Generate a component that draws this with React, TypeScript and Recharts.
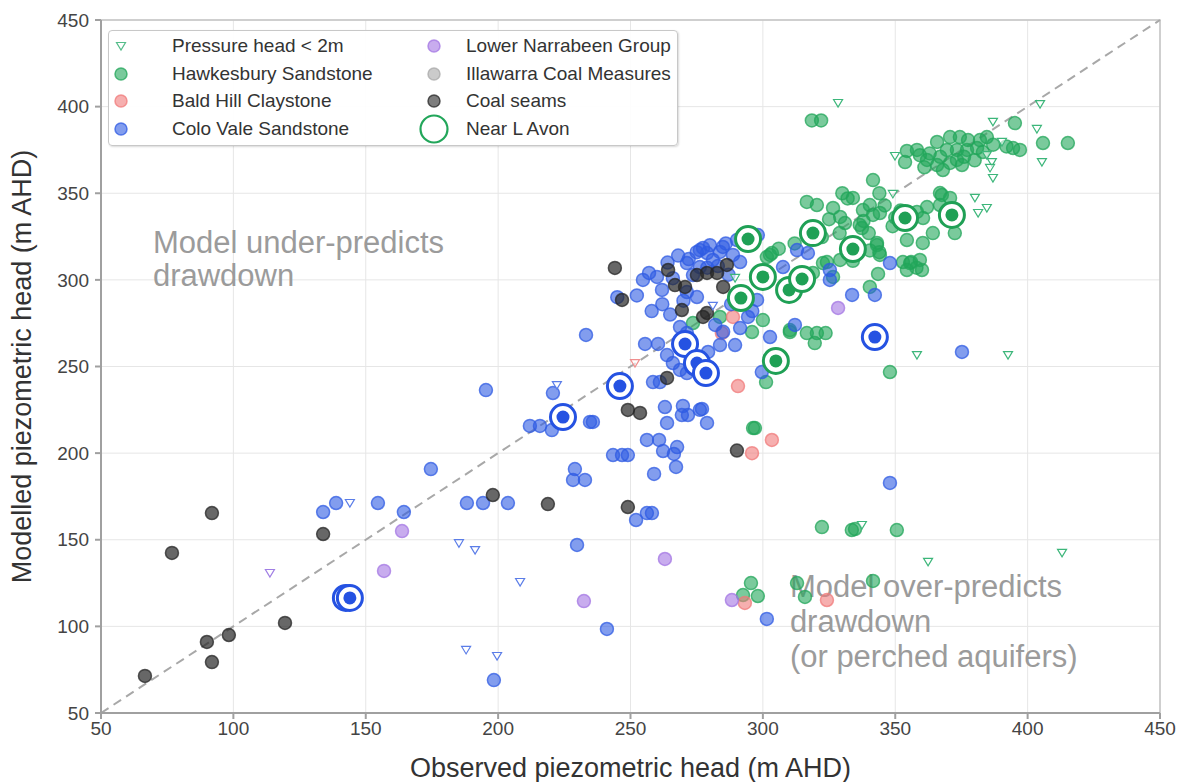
import React from "react";
import {
  ScatterChart,
  Scatter,
  XAxis,
  YAxis,
  CartesianGrid,
  ReferenceLine,
  ReferenceArea,
  ReferenceDot,
} from "recharts";

// observed (x) vs modelled (y) piezometric head, m AHD
const ticks = [50, 100, 150, 200, 250, 300, 350, 400, 450];

const hawkesbury = [
  [318.5, 392], [322, 392], [395.2, 390.5], [405.8, 379], [415.2, 379], [394.5, 376.1], [397.1, 375], [392, 377],
  [354.4, 374.4], [358.2, 375], [353.7, 368], [365.8, 379.6], [370.7, 382.4], [374.4, 382.4], [377.5, 380.7],
  [382, 380.7], [384.6, 382.4], [380.9, 376.1], [377.1, 375], [373.3, 375], [369.5, 375], [383.1, 373.8],
  [362, 369.2], [365.8, 366.3], [368, 363.4], [370.7, 367.5], [373.3, 369.2], [375.2, 366.3], [359.3, 372],
  [363, 373], [367, 371], [341.6, 357.6], [376, 371], [380, 369], [387, 378], [361, 365],
  [316.6, 345], [320.4, 343.2], [326.5, 341.5], [329.2, 336.3], [334, 347.3], [340.4, 343.2], [337.8, 340.3],
  [341.6, 337.5], [344.2, 338.6], [336.6, 331.7], [322.7, 309.7], [329.2, 311.5], [334, 311], [343.1, 320.1],
  [344.2, 314.4], [343.5, 303.4], [354.4, 323], [360.4, 321.3], [364.2, 327], [372.5, 327], [366.9, 350.1],
  [370.7, 347.3], [362, 342], [366.9, 343.2], [355.6, 309.7], [359.3, 311.5], [358, 307], [340.4, 295.9],
  [358.2, 339.2], [360.5, 335.7], [367.6, 349], [302.7, 314.4], [322.3, 324.7], [325, 335], [331, 332.8],
  [337.4, 329.9], [340, 327], [343.1, 321.3], [340.4, 317], [344, 316], [352.9, 310.3], [356, 310.3],
  [360.1, 305.7], [354.4, 305.7], [324.2, 310.3], [326.5, 301.7], [318.9, 304], [310.2, 269.9], [316.6, 269.3],
  [320.4, 269.3], [323.7, 269.3], [319.6, 263.5], [295.9, 269.9], [300, 276.8], [301.5, 313.2], [273.6, 275.1],
  [348, 246.8], [297, 214.5], [301.2, 241], [322.3, 157.3], [333.6, 155.6], [334.8, 156.2], [350.6, 155.6],
  [295.5, 125], [292.5, 118.1], [298.1, 117.5], [312.9, 125], [315.9, 117], [341.6, 126.2], [332, 347],
  [346, 343], [350, 336], [338, 334], [329, 327], [312, 321], [306, 318], [349, 331], [330, 350], [344, 350],
  [352, 340], [303.4, 315.5], [310.2, 271], [283.8, 278.6], [296.3, 214.5],
];

const baldHill = [
  [284.5, 269.3], [288.7, 278.6], [290.6, 238.7], [303.4, 207.6], [295.9, 200], [293.2, 113.5], [324.2, 115.2],
];

const coloVale = [
  [195.4, 236.4], [220.7, 234.7], [212, 215.7], [215.8, 215.7], [220.3, 213.3], [234.7, 218], [174.6, 190.8],
  [229, 190.8], [228.3, 184.5], [232.8, 184.5], [133.9, 166], [138.8, 171.2], [154.6, 171.2], [164.4, 166],
  [188.2, 171.2], [194.3, 171.2], [203.7, 171.2], [229.8, 147], [198.4, 69], [235.8, 218], [263, 226.6],
  [269.8, 227.2], [269.4, 222], [271.7, 222], [277, 225.5], [278.9, 217.4], [263.8, 217.4], [256.2, 207.6],
  [260.8, 207.6], [262.3, 201.2], [267.6, 203.5], [266.4, 199.5], [243.4, 198.9], [246.8, 198.9], [249, 198.9],
  [267.2, 192], [258.9, 188], [348, 182.8], [252.1, 161.4], [256.2, 165.4], [258.1, 165.4], [241.1, 98.5],
  [301.5, 104.3], [233.2, 268.2], [255.5, 263], [260.4, 263], [254.7, 300], [260, 301.7], [252.4, 291],
  [261.9, 294.2], [266, 301], [271.3, 309.7], [276.2, 317.2], [278.9, 315.5], [281.1, 311.5], [283.8, 316.1],
  [288.7, 314.4], [291.4, 310.3], [276.2, 307.4], [279, 307], [273.6, 302.8], [271.3, 293], [275.1, 290.1],
  [268.7, 272.8], [271.3, 269.3], [263.8, 256.6], [266, 252], [268.7, 248], [271.3, 246.2], [279.3, 258.4],
  [258.5, 241], [261.1, 241], [276.2, 225], [289.5, 262.4], [291.4, 272.2], [294.4, 278.6], [297.8, 288.4],
  [302.7, 267], [299.6, 246.8], [312.1, 274], [312.9, 317.2], [283.8, 262.4], [277.4, 318.4], [275, 316],
  [284.9, 319], [290.2, 323], [295.1, 324.8], [298.1, 325.9], [317, 315.5], [307.6, 307.4], [325.3, 305.7],
  [325.3, 300], [333.7, 291.3], [342.3, 291.3], [348, 309.7], [375.2, 258.4], [257, 304], [264, 310],
  [268, 314], [272, 312], [280, 320], [286, 321], [283, 308], [287, 303], [262, 286], [258, 282], [265, 280],
  [270, 288], [245, 290], [285, 270], [282, 274], [288, 286], [296, 282],
];

const lowerNarrabeen = [
  [163.7, 155], [156.9, 132], [232.4, 114.6], [263, 138.9], [288.3, 115.2], [328.4, 283.8],
];

const illawarra: number[][] = [];

const coalSeams = [
  [66.6, 71.4], [76.8, 142.4], [90, 91], [91.9, 79.4], [91.9, 165.4], [98.3, 95], [119.5, 102], [133.9, 153.3],
  [198, 175.8], [218.8, 170.6], [249, 168.9], [249, 224.9], [253.6, 223.2], [290.2, 201.5], [263.8, 243.4],
  [244.1, 306.9], [246.8, 288.4], [264.2, 305.7], [266.8, 297], [270.6, 295.9], [275.1, 302.8], [278.9, 304],
  [282.7, 304], [286.4, 308.6], [285, 295.9], [269.4, 282.6], [277.4, 278.6], [278.9, 280.9],
];

// pressure head < 2m, by formation
const lowHeadHawkesbury = [
  [328.4, 402.1], [404.7, 401.5], [386.9, 391.2], [403.5, 387.1], [390.3, 379.6], [349.9, 371.5], [384.6, 372],
  [386.5, 368], [385.8, 364.6], [386.9, 358.8], [405.4, 368], [349.1, 349.6], [380.1, 347.3], [381.3, 338.6],
  [384.6, 341.5], [358.2, 256.6], [392.6, 256.6], [362.4, 137.2], [413, 142.4], [337.4, 158.5], [289.5, 301.1],
];
const lowHeadColoVale = [
  [144, 171.2], [185.2, 148], [191.3, 144], [208.3, 125.6], [187.9, 86.4], [199.6, 82.9], [222.2, 239.3], [281.1, 285],
];
const lowHeadNarrabeen = [[113.8, 130.8]];
const lowHeadBaldHill = [[251.7, 252]];

// bores near Lake Avon
const avonHawkesbury = [
  [294.4, 323.6], [300, 301.7], [318.9, 327], [334, 317.8], [353.7, 335.7], [371.4, 337.5], [291.7, 289.5],
  [309.9, 294.2], [314.8, 300.5], [304.9, 253.2],
];
const avonColoVale = [
  [224.5, 220.8], [246, 238.7], [270.6, 263], [275.1, 252], [278.5, 246.2], [342.3, 267], [142.5, 116.4], [144, 116.4],
];

const GREEN = "#22a65a";
const RED = "#f07a7a";
const BLUE = "#2f5be3";
const PURPLE = "#a375e3";
const GREY = "#a8a8a8";
const BLACK = "#262626";

const FONT = "'Liberation Sans', Arial, Helvetica, sans-serif";

const pts = (arr: number[][]) => arr.map(([x, y]) => ({ x, y }));

const dot = (color: string, op = 0.6) => (p: any) => (
  <circle
    cx={p.cx}
    cy={p.cy}
    r={6.5}
    fill={color}
    fillOpacity={op}
    stroke={color}
    strokeOpacity={0.75}
    strokeWidth={1.5}
  />
);

const tri = (color: string) => (p: any) => (
  <path
    d={`M${p.cx - 4.5},${p.cy - 3.5} L${p.cx + 4.5},${p.cy - 3.5} L${p.cx},${p.cy + 4} Z`}
    fill="white"
    fillOpacity={0.6}
    stroke={color}
    strokeWidth={1.2}
  />
);

const ring = (color: string) => (p: any) => (
  <g>
    <circle cx={p.cx} cy={p.cy} r={12.5} fill="white" stroke={color} strokeWidth={3} />
    <circle cx={p.cx} cy={p.cy} r={6.5} fill={color} />
  </g>
);

const note = (lines: string[], lh: number) => (props: any) => {
  const vb = props.viewBox || {};
  const x = (vb.x ?? 0) + (vb.width ?? 0) / 2;
  const y = (vb.y ?? 0) + (vb.height ?? 0) / 2;
  return (
    <g>
      {lines.map((l, i) => (
        <text key={i} x={x} y={y + i * lh} fill="#9b9b9b" fontSize={31} fontFamily={FONT}>
          {l}
        </text>
      ))}
    </g>
  );
};

const legendItems = [
  { label: "Pressure head < 2m", kind: "tri", color: "#55bd8a", col: 0, row: 0 },
  { label: "Hawkesbury Sandstone", kind: "dot", color: GREEN, col: 0, row: 1 },
  { label: "Bald Hill Claystone", kind: "dot", color: RED, col: 0, row: 2 },
  { label: "Colo Vale Sandstone", kind: "dot", color: BLUE, col: 0, row: 3 },
  { label: "Lower Narrabeen Group", kind: "dot", color: PURPLE, col: 1, row: 0 },
  { label: "Illawarra Coal Measures", kind: "dot", color: GREY, col: 1, row: 1 },
  { label: "Coal seams", kind: "dot", color: BLACK, col: 1, row: 2 },
  { label: "Near L Avon", kind: "ring", color: GREEN, col: 1, row: 3 },
];

function LegendBox() {
  return (
    <div
      style={{
        position: "absolute",
        left: 108,
        top: 30,
        width: 568,
        height: 114,
        border: "1px solid #c8c8c8",
        borderRadius: 4,
        background: "rgba(255,255,255,0.92)",
        boxShadow: "1px 1px 2px rgba(0,0,0,0.15)",
        fontFamily: FONT,
        fontSize: 19,
        color: "#333",
      }}
    >
      {legendItems.map((it) => {
        const mx = it.col === 0 ? 12 : 325;
        const tx = it.col === 0 ? 63 : 357;
        const cy = 15 + it.row * 27.7;
        return (
          <React.Fragment key={it.label}>
            <svg
              width={30}
              height={30}
              style={{ position: "absolute", left: mx - 15, top: cy - 15, overflow: "visible" }}
            >
              {it.kind === "tri" && (
                <path d="M10.5,11.5 L19.5,11.5 L15,19 Z" fill="white" stroke={it.color} strokeWidth={1.2} />
              )}
              {it.kind === "dot" && (
                <circle cx={15} cy={15} r={6} fill={it.color} fillOpacity={0.6} stroke={it.color} strokeOpacity={0.75} strokeWidth={1.5} />
              )}
              {it.kind === "ring" && (
                <circle cx={15} cy={15} r={13.5} fill="white" stroke={it.color} strokeWidth={2.2} />
              )}
            </svg>
            <div style={{ position: "absolute", left: tx, top: cy - 12, lineHeight: "24px", whiteSpace: "nowrap" }}>
              {it.label}
            </div>
          </React.Fragment>
        );
      })}
    </div>
  );
}

const xLabel = (props: any) => {
  const vb = props.viewBox || {};
  return (
    <text x={vb.x + vb.width / 2} y={777} textAnchor="middle" fontSize={27} fill="#333" fontFamily={FONT}>
      Observed piezometric head (m AHD)
    </text>
  );
};

const yLabel = (props: any) => {
  const vb = props.viewBox || {};
  return (
    <text
      transform={`translate(31, ${vb.y + vb.height / 2}) rotate(-90)`}
      textAnchor="middle"
      fontSize={27}
      fill="#333"
      fontFamily={FONT}
    >
      Modelled piezometric head (m AHD)
    </text>
  );
};

const tickStyle = { fontSize: 19, fill: "#444", fontFamily: FONT };

export default function App() {
  return (
    <div style={{ position: "absolute", left: 0, top: 0, width: 1182, height: 782, background: "white" }}>
      <ScatterChart width={1182} height={782} margin={{ top: 20, right: 22, bottom: 0, left: 0 }}>
        <CartesianGrid stroke="#e6e6e6" strokeWidth={1} />
        <XAxis
          type="number"
          dataKey="x"
          domain={[50, 450]}
          ticks={ticks}
          height={69}
          tick={tickStyle}
          tickSize={6}
          tickMargin={3}
          stroke="#a0a0a0"
          strokeWidth={2}
          allowDataOverflow
          label={xLabel}
        />
        <YAxis
          type="number"
          dataKey="y"
          domain={[50, 450]}
          ticks={ticks}
          width={101}
          tick={tickStyle}
          tickSize={6}
          tickMargin={6}
          stroke="#a0a0a0"
          strokeWidth={2}
          allowDataOverflow
          label={yLabel}
        />
        <ReferenceArea x1={50} x2={450} y1={50} y2={450} fill="none" stroke="#c4c4c4" strokeWidth={1.5} ifOverflow="visible" />
        <ReferenceLine
          segment={[{ x: 50, y: 50 }, { x: 450, y: 450 }]}
          stroke="#a8a8a8"
          strokeWidth={2}
          strokeDasharray="9 6"
        />
        <ReferenceDot
          x={69.6}
          y={315.5}
          r={0}
          fill="none"
          stroke="none"
          label={note(["Model under-predicts", "drawdown"], 33)}
        />
        <ReferenceDot
          x={310.2}
          y={117}
          r={0}
          fill="none"
          stroke="none"
          label={note(["Model over-predicts", "drawdown", "(or perched aquifers)"], 35)}
        />
        <Scatter name="Hawkesbury Sandstone" data={pts(hawkesbury)} shape={dot(GREEN)} isAnimationActive={false} />
        <Scatter name="Bald Hill Claystone" data={pts(baldHill)} shape={dot(RED)} isAnimationActive={false} />
        <Scatter name="Colo Vale Sandstone" data={pts(coloVale)} shape={dot(BLUE)} isAnimationActive={false} />
        <Scatter name="Lower Narrabeen Group" data={pts(lowerNarrabeen)} shape={dot(PURPLE)} isAnimationActive={false} />
        <Scatter name="Illawarra Coal Measures" data={pts(illawarra)} shape={dot(GREY)} isAnimationActive={false} />
        <Scatter name="Coal seams" data={pts(coalSeams)} shape={dot(BLACK, 0.7)} isAnimationActive={false} />
        <Scatter name="Pressure head < 2m (HBSS)" data={pts(lowHeadHawkesbury)} shape={tri("#3cb67a")} isAnimationActive={false} />
        <Scatter name="Pressure head < 2m (CVSS)" data={pts(lowHeadColoVale)} shape={tri("#5b7de8")} isAnimationActive={false} />
        <Scatter name="Pressure head < 2m (LNG)" data={pts(lowHeadNarrabeen)} shape={tri("#a07ee4")} isAnimationActive={false} />
        <Scatter name="Pressure head < 2m (BHC)" data={pts(lowHeadBaldHill)} shape={tri("#f08f8f")} isAnimationActive={false} />
        <Scatter name="Near L Avon (HBSS)" data={pts(avonHawkesbury)} shape={ring("#1fa055")} isAnimationActive={false} />
        <Scatter name="Near L Avon (CVSS)" data={pts(avonColoVale)} shape={ring("#2552e2")} isAnimationActive={false} />
      </ScatterChart>
      <LegendBox />
    </div>
  );
}
